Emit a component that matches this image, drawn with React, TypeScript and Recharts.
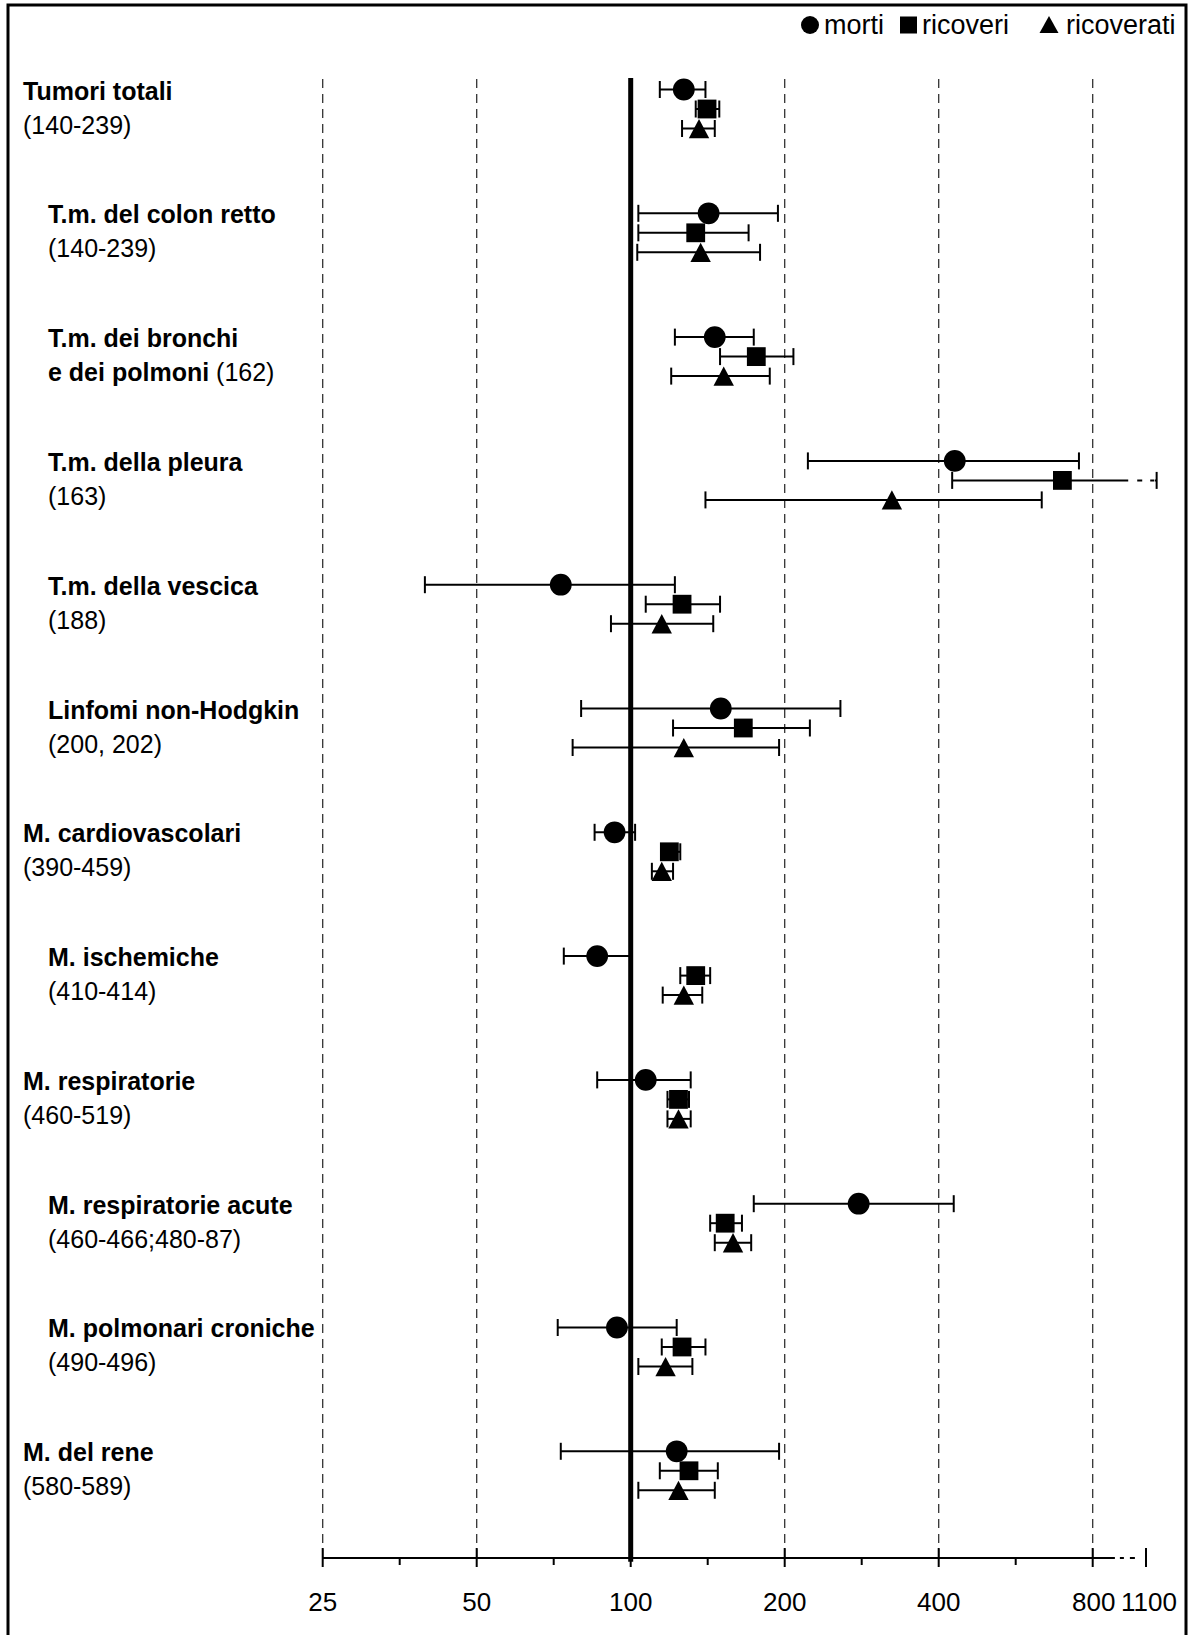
import React from "react";
import {
    ScatterChart,
    Scatter,
    XAxis,
    YAxis,
    ReferenceLine,
    ErrorBar,
} from "recharts";

// righe del grafico (etichetta in grassetto + codici ICD)
const CATEGORIES = [
    "Tumori totali",
    "T.m. del colon retto",
    "T.m. dei bronchi",
    "T.m. della pleura",
    "T.m. della vescica",
    "Linfomi non-Hodgkin",
    "M. cardiovascolari",
    "M. ischemiche",
    "M. respiratorie",
    "M. respiratorie acute",
    "M. polmonari croniche",
    "M. del rene",
];
const SECOND_BOLD = ["", "", "e dei polmoni", "", "", "", "", "", "", "", "", ""];
const CODES = [
    "(140-239)",
    "(140-239)",
    "(162)",
    "(163)",
    "(188)",
    "(200, 202)",
    "(390-459)",
    "(410-414)",
    "(460-519)",
    "(460-466;480-87)",
    "(490-496)",
    "(580-589)",
];
const INDENTED = [false, true, true, true, true, true, false, true, false, true, true, false];

// morti
const MORTI = [127, 142, 146, 430, 73, 150, 93, 86, 107, 279, 94, 123];
const MORTI_LO = [114, 103.5, 122, 222, 39.6, 80, 85, 74, 86, 174, 72, 73];
const MORTI_HI = [140, 194, 174, 752, 122, 257, 102, 100, 131, 428, 123, 195];

// ricoveri
const RICOVERI = [141, 134, 176, 698, 126, 166, 119, 134, 124, 153, 126, 130];
const RICOVERI_LO = [134, 103.5, 149.5, 425, 107, 121, 116, 125, 118, 143, 115, 114];
const RICOVERI_HI = [149, 170, 208, 1160, 149.5, 224, 125, 143, 130, 165, 140, 148];

// ricoverati
const RICOVERATI = [136, 137, 152, 324, 115, 127, 115, 127, 124, 158.5, 117, 124];
const RICOVERATI_LO = [126, 103, 120, 140, 91.5, 77, 110, 115.5, 118, 146, 103.5, 103.5];
const RICOVERATI_HI = [146, 179, 187, 636, 145, 195, 121, 138, 131, 172, 132, 146];

// asse x (scala logaritmica con interruzione fra 800 e 1100)
const TICK_VALUES = [25, 50, 100, 200, 400, 800, 1100];
const TICK_LABELS = ["25", "50", "100", "200", "400", "800", "1100"];
const GRID_VALUES = [25, 50, 200, 400, 800];
const AXIS_BREAK_VALUE = 925;
const WHISKER_BREAK_VALUE = 1000;
const WHISKER_BREAK_END = 1150;

const U_800 = 5;
const U_1100 = 5.346;
const toU = (v: number) =>
    v <= 800 ? Math.log2(v / 25) : U_800 + ((v - 800) / 300) * (U_1100 - U_800);

const MAJOR_U = TICK_VALUES.map(toU);
const MINOR_U = MAJOR_U.slice(0, 5).map((u, i) => (u + MAJOR_U[i + 1]) / 2);
const X_TICKS = [...MAJOR_U, ...MINOR_U].sort((a, b) => a - b);

const ROW_OFFSETS = [0, 0.1575, 0.315];
const Y_TOP = -0.093;
const Y_BOTTOM = 11.862;
const AXIS_Y = 1558;
const FONT = "'Liberation Sans', Arial, Helvetica, sans-serif";

function buildSeries(vals: number[], lo: number[], hi: number[], k: number) {
    return vals.map((v, i) => {
        const u = toU(v);
        return { u, row: i + ROW_OFFSETS[k], err: [u - toU(lo[i]), toU(hi[i]) - u] };
    });
}

const mortiData = buildSeries(MORTI, MORTI_LO, MORTI_HI, 0);
const ricoveriData = buildSeries(RICOVERI, RICOVERI_LO, RICOVERI_HI, 1);
const ricoveratiData = buildSeries(RICOVERATI, RICOVERATI_LO, RICOVERATI_HI, 2);
const brokenIdx = RICOVERI_HI.findIndex((v) => v > 1100);

const CircleShape = (p: any) => <circle cx={p.cx} cy={p.cy} r={10.9} fill="#000" />;
const SquareShape = (p: any) => (
    <rect x={p.cx - 9.4} y={p.cy - 9.4} width={18.8} height={18.8} fill="#000" />
);
const TriangleShape = (p: any) => (
    <polygon
        points={`${p.cx},${p.cy - 9.6} ${p.cx + 10.2},${p.cy + 9.7} ${p.cx - 10.2},${p.cy + 9.7}`}
        fill="#000"
    />
);

function XTick(props: any) {
    const { x, payload } = props;
    const idx = MAJOR_U.findIndex((u) => Math.abs(u - payload.value) < 1e-6);
    if (idx < 0) {
        return <line x1={x} x2={x} y1={AXIS_Y} y2={AXIS_Y + 7} stroke="#000" strokeWidth={2} />;
    }
    // l'ultima etichetta (1100) e' leggermente spostata per non toccare 800
    const dx = idx === TICK_LABELS.length - 1 ? 3 : idx === TICK_LABELS.length - 2 ? 1 : 0;
    return (
        <g>
            <line x1={x} x2={x} y1={AXIS_Y - 10} y2={AXIS_Y + 9} stroke="#000" strokeWidth={2} />
            <text x={x + dx} y={AXIS_Y + 53} textAnchor="middle" fontSize={26} fill="#000" fontFamily={FONT}>
                {TICK_LABELS[idx]}
            </text>
        </g>
    );
}

function RowLabel(props: any) {
    const i = Math.round(props.payload.value);
    const y = props.y;
    const x = INDENTED[i] ? 48 : 23;
    return (
        <g fontFamily={FONT} fontSize={25} fill="#000">
            <text x={x} y={y + 10} fontWeight="bold" fill="#000">
                {CATEGORIES[i]}
            </text>
            <text x={x} y={y + 44} fill="#000">
                {SECOND_BOLD[i] && <tspan fontWeight="bold">{SECOND_BOLD[i]} </tspan>}
                {CODES[i]}
            </text>
        </g>
    );
}

export default function App() {
    const brokenRow = brokenIdx + ROW_OFFSETS[1];
    return (
        <div
            style={{
                position: "absolute",
                left: 0,
                top: 0,
                width: 1193,
                height: 1635,
                background: "#fff",
                fontFamily: FONT,
            }}
        >
            <ScatterChart
                width={1193}
                height={1635}
                margin={{ top: 78, right: 23.3, bottom: 0, left: 0 }}
            >
                {/* griglia tratteggiata */}
                {GRID_VALUES.map((v) => (
                    <ReferenceLine
                        key={v}
                        x={toU(v)}
                        stroke="#333"
                        strokeWidth={1.3}
                        strokeDasharray="9 6"
                        ifOverflow="visible"
                    />
                ))}
                {/* linea di riferimento 100 */}
                <ReferenceLine
                    segment={[
                        { x: toU(100), y: Y_TOP },
                        { x: toU(100), y: Y_BOTTOM + 0.03 },
                    ]}
                    stroke="#000"
                    strokeWidth={5}
                    ifOverflow="visible"
                />
                {/* asse x con interruzione */}
                <ReferenceLine
                    segment={[
                        { x: 0, y: Y_BOTTOM },
                        { x: toU(AXIS_BREAK_VALUE), y: Y_BOTTOM },
                    ]}
                    stroke="#000"
                    strokeWidth={2}
                    ifOverflow="visible"
                />
                <ReferenceLine
                    segment={[
                        { x: toU(AXIS_BREAK_VALUE), y: Y_BOTTOM },
                        { x: U_1100, y: Y_BOTTOM },
                    ]}
                    stroke="#000"
                    strokeWidth={2}
                    strokeDasharray="0 5 4 6 5 20"
                    ifOverflow="visible"
                />

                <XAxis
                    type="number"
                    dataKey="u"
                    domain={[0, 5.5]}
                    allowDataOverflow
                    ticks={X_TICKS}
                    interval={0}
                    tick={<XTick />}
                    tickLine={false}
                    axisLine={false}
                    height={77}
                />
                <YAxis
                    type="number"
                    dataKey="row"
                    domain={[Y_TOP, Y_BOTTOM]}
                    allowDataOverflow
                    reversed
                    ticks={CATEGORIES.map((_, i) => i)}
                    interval={0}
                    tick={<RowLabel />}
                    tickLine={false}
                    axisLine={false}
                    width={322.7}
                />

                <Scatter name="morti" data={mortiData} shape={CircleShape} isAnimationActive={false}>
                    <ErrorBar dataKey="err" direction="x" width={8.5} stroke="#000" strokeWidth={2} isAnimationActive={false} />
                </Scatter>
                <Scatter name="ricoveri" data={ricoveriData} shape={SquareShape} isAnimationActive={false}>
                    <ErrorBar dataKey="err" direction="x" width={8.5} stroke="#000" strokeWidth={2} isAnimationActive={false} />
                </Scatter>
                <Scatter name="ricoverati" data={ricoveratiData} shape={TriangleShape} isAnimationActive={false}>
                    <ErrorBar dataKey="err" direction="x" width={8.5} stroke="#000" strokeWidth={2} isAnimationActive={false} />
                </Scatter>

                {/* tratto interrotto dell'intervallo oltre 1100 */}
                <ReferenceLine
                    segment={[
                        { x: toU(WHISKER_BREAK_VALUE), y: brokenRow },
                        { x: toU(WHISKER_BREAK_END), y: brokenRow },
                    ]}
                    stroke="#fff"
                    strokeWidth={5}
                    ifOverflow="visible"
                />
                <ReferenceLine
                    segment={[
                        { x: toU(WHISKER_BREAK_VALUE), y: brokenRow },
                        { x: toU(WHISKER_BREAK_END), y: brokenRow },
                    ]}
                    stroke="#000"
                    strokeWidth={2}
                    strokeDasharray="0 9 5 8 4 10"
                    ifOverflow="visible"
                />
            </ScatterChart>

            {/* cornice e legenda */}
            <svg
                width={1193}
                height={1635}
                style={{ position: "absolute", left: 0, top: 0, pointerEvents: "none" }}
            >
                <path d="M8 1640 V5 H1186 V1640" fill="none" stroke="#000" strokeWidth={3} />
                <g fontFamily={FONT} fontSize={27} fill="#000">
                    <circle cx={810} cy={25} r={9} fill="#000" />
                    <text x={824} y={34}>morti</text>
                    <rect x={900} y={16.5} width={17} height={17} fill="#000" />
                    <text x={922} y={34}>ricoveri</text>
                    <polygon points="1049,16 1058.5,33 1039.5,33" fill="#000" />
                    <text x={1066} y={34}>ricoverati</text>
                </g>
            </svg>
        </div>
    );
}
